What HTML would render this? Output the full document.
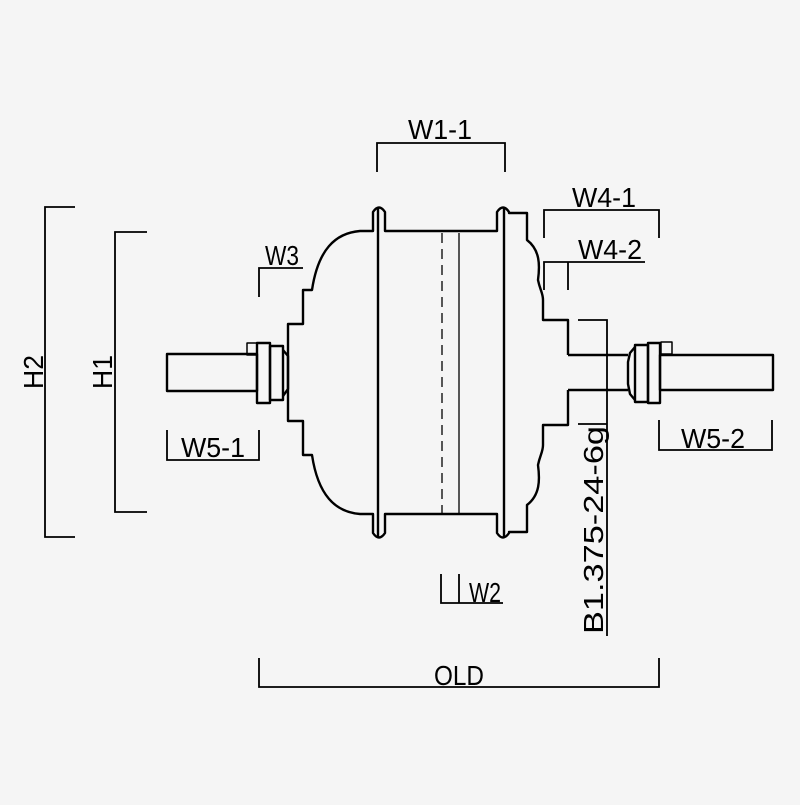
<!DOCTYPE html>
<html><head><style>html,body{margin:0;padding:0;background:#f5f5f5}</style></head>
<body>
<svg width="800" height="800" viewBox="0 0 800 800" xmlns="http://www.w3.org/2000/svg" font-family="Liberation Sans, sans-serif" font-size="28">
<rect width="800" height="800" fill="#f5f5f5"/>
<g fill="none" stroke="#000" stroke-width="2.4" stroke-linejoin="round">
<path d="M288,372 L288,324 L303,324 L303,290 L312,290 C318,250 335,233 360,231 L373,231 L373,212 Q379,203 385,212 L385,231 L497,231 L497,212 Q503,203 509,212 L509,213 L527,213 L527,240 C540,250 540,265 538,280 C540,290 543,293 543,300 L543,320 L568,320 L568,355"/>
<path d="M288,372 L288,421 L303,421 L303,455 L312,455 C318,495 335,512 360,514 L373,514 L373,533 Q379,542 385,533 L385,514 L497,514 L497,533 Q503,542 509,533 L509,532 L527,532 L527,505 C540,495 540,480 538,465 C540,455 543,452 543,445 L543,425 L568,425 L568,390"/>
<line x1="378" y1="208" x2="378" y2="537"/>
<line x1="504" y1="208" x2="504" y2="537"/>
<rect x="167" y="354" width="90" height="37"/>
<rect x="257" y="343" width="13" height="60"/>
<rect x="270" y="346" width="13" height="54"/>
<path d="M283,350 L288,356 L288,389 L283,396"/>
<rect x="247" y="343" width="10" height="12" stroke-width="1.5"/>
<path d="M568,355 L628,355 M568,390 L628,390"/>
<path d="M635,347 L630,353 L628,362 L628,384 L630,394 L635,400"/>
<rect x="635" y="345" width="13" height="57"/>
<rect x="648" y="343" width="12" height="60"/>
<rect x="660" y="355" width="113" height="35"/>
<rect x="661" y="342" width="11" height="12" stroke-width="1.5"/>
</g>
<g fill="none" stroke="#000" stroke-width="1.3">
<line x1="442" y1="233" x2="442" y2="513" stroke-dasharray="10,6"/>
<line x1="459" y1="233" x2="459" y2="513"/>
</g>
<g fill="none" stroke="#000" stroke-width="1.8">
<path d="M377,172 V143 H505 V172"/>
<path d="M259,297 V268 H303"/>
<path d="M544,238 V210 H659 V238"/>
<path d="M544,290 V262 H645 M568,262 V290"/>
<path d="M167,430 V460 H259 V430"/>
<path d="M659,420 V450 H772 V420"/>
<path d="M441,574 V603 H503 M459,574 V603"/>
<path d="M259,658 V687 H659 V658"/>
<path d="M147,232 H115 V512 H147"/>
<path d="M75,207 H45 V537 H75"/>
<path d="M578,320 H607 V636 M578,424 H607"/>
</g>
<g fill="#000">
<text x="408" y="139" textLength="64" lengthAdjust="spacingAndGlyphs">W1-1</text>
<text x="265" y="265" textLength="34" lengthAdjust="spacingAndGlyphs">W3</text>
<text x="572" y="207" textLength="64" lengthAdjust="spacingAndGlyphs">W4-1</text>
<text x="578" y="259" textLength="64" lengthAdjust="spacingAndGlyphs">W4-2</text>
<text x="181" y="457" textLength="64" lengthAdjust="spacingAndGlyphs">W5-1</text>
<text x="681" y="448" textLength="64" lengthAdjust="spacingAndGlyphs">W5-2</text>
<text x="469" y="602" textLength="32" lengthAdjust="spacingAndGlyphs">W2</text>
<text x="434" y="685" textLength="50" lengthAdjust="spacingAndGlyphs">OLD</text>
<text transform="translate(112,389) rotate(-90)" textLength="34" lengthAdjust="spacingAndGlyphs">H1</text>
<text transform="translate(43,389) rotate(-90)" textLength="34" lengthAdjust="spacingAndGlyphs">H2</text>
<text transform="translate(603,634) rotate(-90)" textLength="208" lengthAdjust="spacingAndGlyphs">B1.375-24-6g</text>
</g>
</svg>
</body></html>
